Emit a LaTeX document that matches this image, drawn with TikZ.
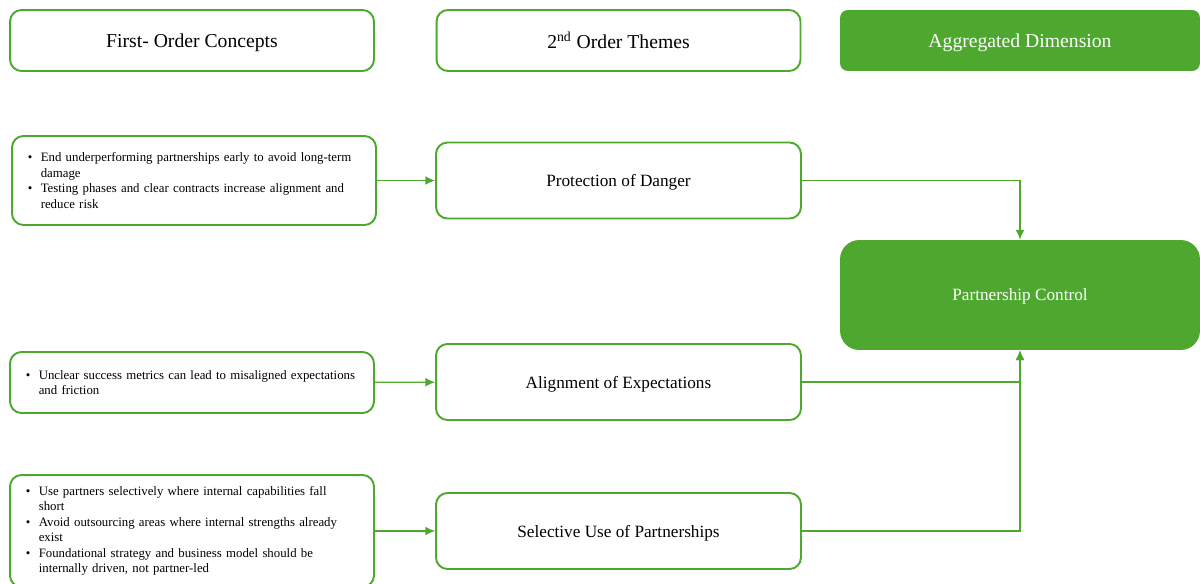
\documentclass[tikz,border=0pt]{standalone}
\usepackage{fontspec}
\setmainfont{Liberation Serif}
\usetikzlibrary{arrows.meta}
\definecolor{leafgreen}{RGB}{78,167,46}
\newcommand{\bpoint}[1]{\hangindent=7.4pt\hangafter=1\noindent\hbox to 7.4pt{\textbullet\hfil}#1\par}

\begin{document}
\begin{tikzpicture}[x=0.02cm,y=-0.02cm,
    outlined/.style={rectangle,draw=leafgreen,line width=1.1pt,rounded corners=6.5pt},
    header/.style={outlined,minimum width=7.28cm,minimum height=1.22cm,text depth=0pt,
        font=\fontsize{11.2}{13}\selectfont},
    theme/.style={outlined,minimum width=7.3cm,minimum height=1.52cm,text depth=0pt,
        font=\fontsize{9.8}{12}\selectfont},
    concept/.style={outlined,minimum width=7.28cm,text width=6.65cm,align=left,
        font=\fontsize{7.3}{8.8}\selectfont},
    solid box/.style={rectangle,fill=leafgreen,text=white,minimum width=7.2cm,text depth=0pt},
    link/.style={draw=leafgreen,line width=0.8pt},
    tip/.style={link,-{Latex[length=5.5pt,width=5pt]}}]

    \useasboundingbox (0,0) rectangle (1200,584);

            % column heads
            \node[header]
            	(firsthead) 	at (192,40.5) {First- Order Concepts};
            \node[header]
            	(secondhead) 	at (618.5,40.5) {2\textsuperscript{nd} Order Themes};
            \node[solid box,rounded corners=4.5pt,minimum height=1.22cm,
                font=\fontsize{11.2}{13}\selectfont]
            	(aggrhead) 	at (1020,40.5) {Aggregated Dimension};

            % concepts
            \node[concept,minimum height=1.78cm]
            	(danger) 	at (194,180.5) {\raggedright\bpoint{End underperforming partnerships early to avoid long-term\newline damage}\bpoint{Testing phases and clear contracts increase alignment and\newline reduce risk}};
            \node[concept,minimum height=1.22cm]
            	(metrics) 	at (192,382.5) {\raggedright\bpoint{Unclear success metrics can lead to misaligned expectations\newline and friction}};
            \node[concept,minimum height=2.24cm]
            	(partners) 	at (192,531) {\raggedright\bpoint{Use partners selectively where internal capabilities fall\newline short}\bpoint{Avoid outsourcing areas where internal strengths already\newline exist}\bpoint{Foundational strategy and business model should be\newline internally driven, not partner-led}};

            % themes
            \node[theme]
            	(protection) 	at (618.5,180.5) {Protection of Danger};
            \node[theme]
            	(alignment) 	at (618.5,382) {Alignment of Expectations};
            \node[theme]
            	(selective) 	at (618.5,531) {Selective Use of Partnerships};

            % dimension
            \node[solid box,rounded corners=11pt,minimum height=2.2cm,
                font=\fontsize{9.8}{12}\selectfont]
            	(control) 	at (1020,295) {Partnership Control};

            \path[tip] (danger) -- (protection);
            \path[tip] (metrics) -- (alignment);
            \path[tip] (partners) -- (selective);
            \path[tip] (protection.east) -| (control.north);
            \path[tip] (alignment.east) -| (control.south);
            \path[tip] (selective.east) -| (control.south);
\end{tikzpicture}
\end{document}
